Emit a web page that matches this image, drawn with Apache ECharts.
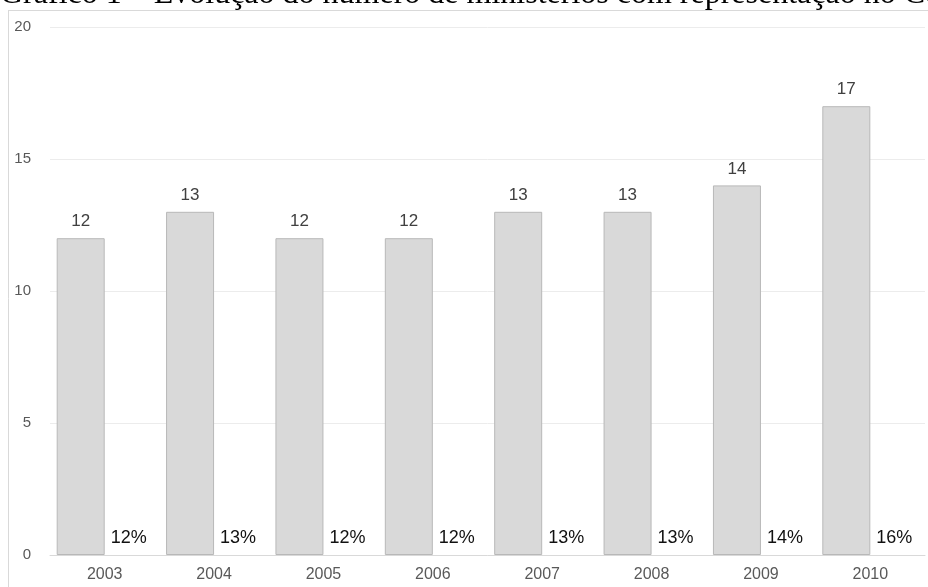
<!DOCTYPE html>
<html><head><meta charset="utf-8">
<script src="https://cdn.jsdelivr.net/npm/echarts@6/dist/echarts.min.js"></script>
<style>html,body{margin:0;padding:0;background:#fff}#c{width:928px;height:587px}</style>
</head><body><div id="c"></div>
<script>
const titleText = 'Gráfico 1 – Evolução do número de ministérios com representação no Conselho';
const years = ['2003','2004','2005','2006','2007','2008','2009','2010'];
const ministerios = [12, 13, 12, 12, 13, 13, 14, 17];
const percentuais = [12, 13, 12, 12, 13, 13, 14, 16];
const yTicks = {min: 0, max: 20, interval: 5};

const chart = echarts.init(document.getElementById('c'), null, {renderer: 'canvas'});
chart.setOption({
  animation: false,
  backgroundColor: '#fff',
  graphic: [
    {type: 'text', x: 0, y: -5, style: {text: titleText, font: '32px "Liberation Serif"', fill: '#000', verticalAlign: 'middle', align: 'left'}},
    {type: 'line', shape: {x1: 8, y1: 10.5, x2: 928, y2: 10.5}, style: {stroke: '#d9d9d9', lineWidth: 1}},
    {type: 'line', shape: {x1: 8.5, y1: 10, x2: 8.5, y2: 587}, style: {stroke: '#d9d9d9', lineWidth: 1}}
  ],
  grid: {left: 50, right: 3, top: 27, bottom: 32},
  xAxis: {
    type: 'category', data: years,
    axisLine: {lineStyle: {color: '#d9d9d9'}},
    axisTick: {show: false},
    axisLabel: {color: '#595959', fontSize: 16, fontFamily: 'Liberation Sans', margin: 12}
  },
  yAxis: {
    type: 'value', min: yTicks.min, max: yTicks.max, interval: yTicks.interval,
    axisLine: {show: false}, axisTick: {show: false},
    axisLabel: {color: '#595959', fontSize: 15, fontFamily: 'Liberation Sans', margin: 19},
    splitLine: {lineStyle: {color: '#ececec'}}
  },
  series: [
    {
      type: 'bar', data: ministerios, barWidth: 48, barGap: '0%',
      itemStyle: {color: '#d9d9d9', borderColor: '#b8b8b8', borderWidth: 1},
      label: {show: true, position: 'top', distance: 8, color: '#404040', fontSize: 17, fontFamily: 'Liberation Sans'}
    },
    {
      type: 'bar', data: percentuais, barWidth: 48,
      itemStyle: {color: 'rgba(0,0,0,0)'},
      label: {show: true, position: 'insideBottom', distance: 8, color: '#111', fontSize: 18, fontFamily: 'Liberation Sans',
        formatter: p => p.value + '%'}
    }
  ]
});
</script></body></html>
